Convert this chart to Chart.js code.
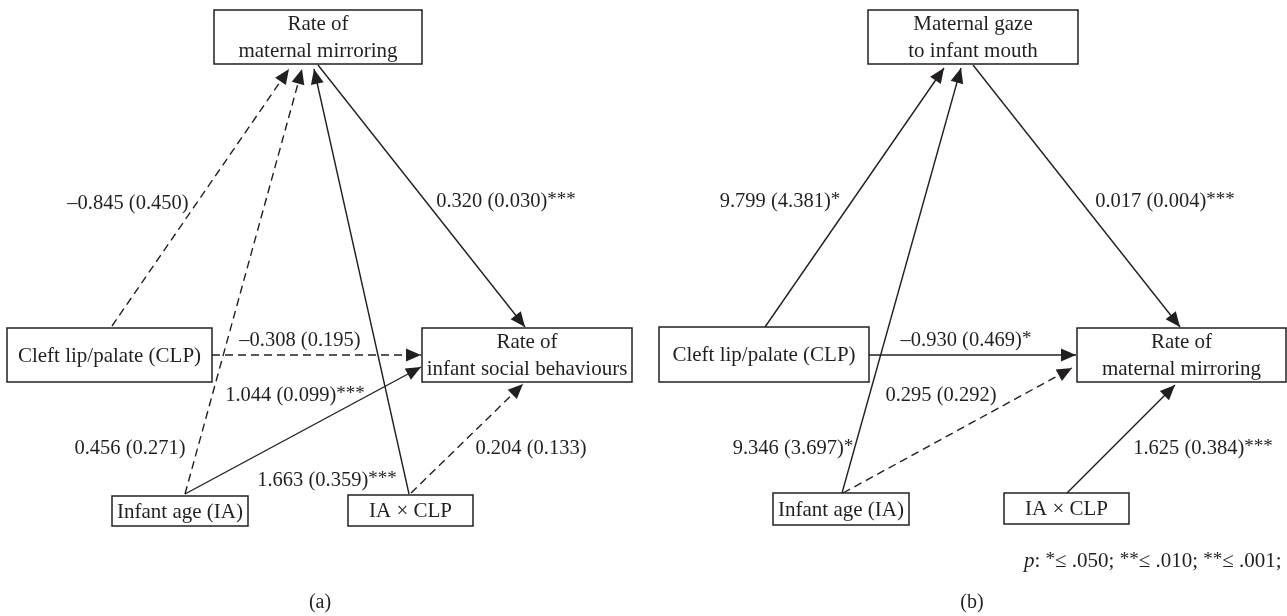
<!DOCTYPE html>
<html>
<head>
<meta charset="utf-8">
<script src="https://cdn.jsdelivr.net/npm/chart.js@4.4.1/dist/chart.umd.min.js"></script>
<style>
  html, body { margin: 0; padding: 0; background: #fff; }
  #wrap { width: 1287px; height: 616px; position: relative; }
</style>
</head>
<body>
<div id="wrap"><canvas id="chart"></canvas></div>
<script>
// --- Data ---
// node names, panel (a) then panel (b)
const nodeNames = [
  ['Rate of', 'maternal mirroring'],
  ['Cleft lip/palate (CLP)'],
  ['Infant age (IA)'],
  ['IA × CLP'],
  ['Rate of', 'infant social behaviours'],
  ['Maternal gaze', 'to infant mouth'],
  ['Cleft lip/palate (CLP)'],
  ['Infant age (IA)'],
  ['IA × CLP'],
  ['Rate of', 'maternal mirroring']
];

// path coefficients: estimate (SE) and significance stars
const pathEstimates = [-0.845, 0.456, 1.663, 0.320, -0.308, 1.044, 0.204,
                       9.799, 9.346, 0.017, -0.930, 0.295, 1.625];
const pathErrors    = [0.450, 0.271, 0.359, 0.030, 0.195, 0.099, 0.133,
                       4.381, 3.697, 0.004, 0.469, 0.292, 0.384];
const pathStars     = ['', '', '***', '***', '', '***', '',
                       '*', '*', '***', '*', '', '***'];
const panelLabels = ['(a)', '(b)'];
const footnote = ['p', ': ', '*', '≤ .050; ', '**', '≤ .010; ', '**', '≤ .001;'];

// --- Layout (diagram units, mapped through the chart scales) ---
const nodeBoxes = [
  [214, 10, 422, 64], [7, 328, 212, 382], [112, 496, 248, 526], [348, 495, 473, 526], [422, 328, 632, 382],
  [868, 10, 1078, 64], [659, 327, 869, 382], [773, 493, 909, 525], [1004, 493, 1129, 524], [1077, 328, 1286, 382]
];
// edge start / arrow tip
const edgeFrom = [[112, 326], [185, 494], [409, 494], [318, 65], [212, 355], [185, 494], [411, 493],
                  [765, 327], [842, 493], [973, 65], [869, 355], [843, 493], [1067, 493]];
const edgeTo   = [[289, 69], [302, 69], [314, 69], [525, 327], [421, 355], [421, 367], [523, 384],
                  [944, 68], [961, 68], [1180, 327], [1076, 355], [1072, 368], [1175, 385]];
const labelPos = [[128, 202], [130, 447], [327, 479], [506, 200], [300, 339], [295, 394], [531, 447],
                  [780, 200], [793, 447], [1165, 200], [966, 339], [941, 394], [1203, 447]];
const panelLabelPos = [[320, 603], [972, 603]];
const footnotePos = [1024, 560];

const INK = '#231f20';
const SERIF = '"Liberation Serif", "DejaVu Serif", serif';

const datasets = edgeFrom.map((f, i) => ({
  data: [{ x: f[0], y: f[1] }, { x: edgeTo[i][0], y: edgeTo[i][1] }],
  showLine: true,
  borderColor: INK,
  borderWidth: 1.4,
  borderDash: pathStars[i] === '' ? [8, 5] : [],
  pointRadius: 0
}));

function coefText(i) {
  const v = pathEstimates[i];
  return (v < 0 ? '–' : '') + Math.abs(v).toFixed(3) + ' (' + pathErrors[i].toFixed(3) + ')';
}

const diagramPlugin = {
  id: 'diagram',
  afterDatasetsDraw(chart) {
    const ctx = chart.ctx;
    const sx = chart.scales.x, sy = chart.scales.y;
    const px = v => sx.getPixelForValue(v);
    const py = v => sy.getPixelForValue(v);
    ctx.save();

    // arrowheads
    ctx.fillStyle = INK;
    chart.data.datasets.forEach((ds, i) => {
      const pts = chart.getDatasetMeta(i).data;
      const a = pts[0], b = pts[1];
      const ang = Math.atan2(b.y - a.y, b.x - a.x);
      const len = 15, hw = 6.5;
      ctx.beginPath();
      ctx.moveTo(b.x, b.y);
      ctx.lineTo(b.x - len * Math.cos(ang) + hw * Math.sin(ang), b.y - len * Math.sin(ang) - hw * Math.cos(ang));
      ctx.lineTo(b.x - len * Math.cos(ang) - hw * Math.sin(ang), b.y - len * Math.sin(ang) + hw * Math.cos(ang));
      ctx.closePath();
      ctx.fill();
    });

    // boxes
    ctx.strokeStyle = INK;
    ctx.lineWidth = 1.5;
    ctx.font = '21px ' + SERIF;
    ctx.textAlign = 'center';
    ctx.textBaseline = 'middle';
    nodeBoxes.forEach((b, i) => {
      const x0 = px(b[0]), x1 = px(b[2]), y0 = py(b[1]), y1 = py(b[3]);
      ctx.fillStyle = '#fff';
      ctx.fillRect(x0, y0, x1 - x0, y1 - y0);
      ctx.strokeRect(x0, y0, x1 - x0, y1 - y0);
      ctx.fillStyle = INK;
      const lines = nodeNames[i];
      const cx = (x0 + x1) / 2, cy = (y0 + y1) / 2;
      lines.forEach((t, k) => {
        ctx.fillText(t, cx, cy + (k - (lines.length - 1) / 2) * 27 + 1);
      });
    });

    // coefficient labels
    ctx.textAlign = 'left';
    ctx.textBaseline = 'alphabetic';
    labelPos.forEach((p, i) => {
      const main = coefText(i), stars = pathStars[i];
      ctx.font = '20.5px ' + SERIF;
      const w1 = ctx.measureText(main).width;
      ctx.font = '19px ' + SERIF;
      const w2 = stars ? ctx.measureText(stars).width : 0;
      const x = px(p[0]) - (w1 + w2) / 2, base = py(p[1]) + 7;
      ctx.font = '20.5px ' + SERIF;
      ctx.fillText(main, x, base);
      if (stars) {
        ctx.font = '19px ' + SERIF;
        ctx.fillText(stars, x + w1, base - 2);
      }
    });

    // panel labels
    ctx.font = '20px ' + SERIF;
    ctx.textAlign = 'center';
    ctx.textBaseline = 'middle';
    panelLabels.forEach((t, i) => ctx.fillText(t, px(panelLabelPos[i][0]), py(panelLabelPos[i][1])));

    // footnote
    ctx.textAlign = 'left';
    ctx.textBaseline = 'alphabetic';
    let fx = px(footnotePos[0]);
    const fy = py(footnotePos[1]) + 7;
    footnote.forEach((t, k) => {
      const isStar = t.startsWith('*');
      ctx.font = (k === 0 ? 'italic ' : '') + (isStar ? '19px ' : '21px ') + SERIF;
      ctx.fillText(t, fx, isStar ? fy - 2 : fy);
      fx += ctx.measureText(t).width;
    });

    ctx.restore();
  }
};

new Chart(document.getElementById('chart'), {
  type: 'scatter',
  data: { datasets },
  options: {
    responsive: true,
    maintainAspectRatio: false,
    animation: false,
    layout: { padding: 0 },
    plugins: { legend: { display: false }, tooltip: { enabled: false } },
    scales: {
      x: { type: 'linear', min: 0, max: 1287, display: false },
      y: { type: 'linear', min: 0, max: 616, reverse: true, display: false }
    }
  },
  plugins: [diagramPlugin]
});
</script>
</body>
</html>
